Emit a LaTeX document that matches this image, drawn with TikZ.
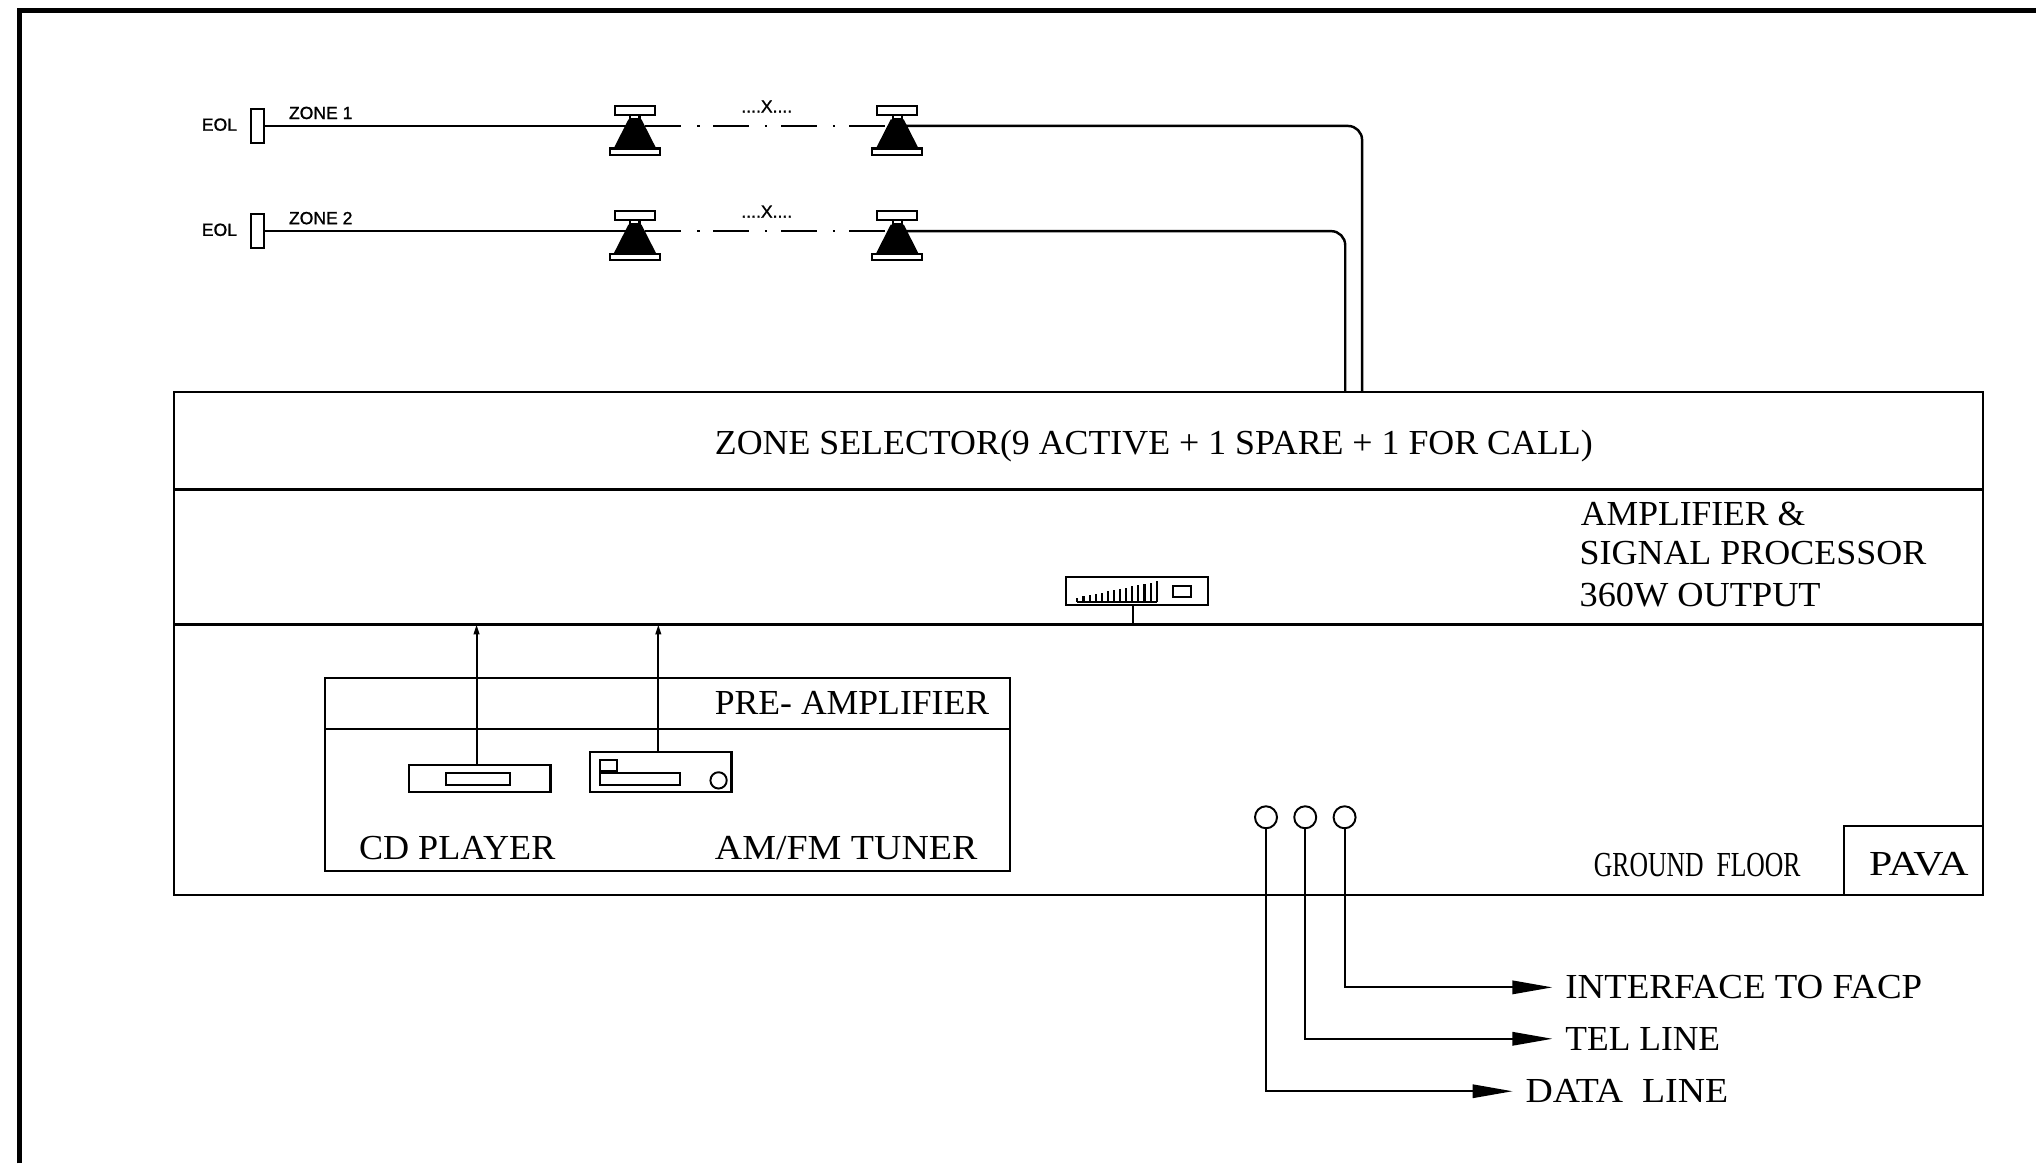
\documentclass[tikz,border=0pt]{standalone}
\usepackage{fontspec}
\setmainfont{Liberation Serif}
\newfontfamily\cadfont[FakeBold=1.2]{Liberation Sans}
\usetikzlibrary{arrows.meta,positioning}

\begin{document}
\begin{tikzpicture}[
  x=0.012985cm, y=-0.012985cm,
  panel/.style={draw=black, line width=0.6pt, minimum width=#1, inner sep=0pt, outer sep=0pt},
  panel/.default=18.09cm,
  label/.style={font=\fontsize{10}{12}\selectfont, text height=6.6pt, text depth=0pt, inner sep=0pt, anchor=west},
  cadtext/.style={font=\cadfont\fontsize{5}{6}\selectfont, inner sep=0pt},
  unit/.style={draw=black, line width=0.6pt},
  port/.style={draw=black, line width=0.55pt, circle, minimum size=0.22cm, inner sep=0pt},
  eol/.style={draw=black, line width=0.6pt, minimum width=0.13cm, minimum height=0.334cm, inner sep=0pt},
  wire/.style={line width=0.7pt},
  fatarrow/.style={line width=0.6pt, -{Stealth[length=11.4pt,width=3.8pt,inset=0pt]}, shorten >=0.122cm},
  thinarrow/.style={line width=0.55pt, -{Stealth[length=2.8pt,width=1.6pt,inset=0pt]}},
  speaker/.pic={
    \draw[unit, fill=white] (-15.5,-15.6) rectangle (15.5,-8.4);
    \draw[unit, fill=white] (-3.5,-8.4) rectangle (3.5,-5.1);
    \fill[black] (-5,-5.1) -- (5,-5.1) -- (16.5,17.5) -- (-16.5,17.5) -- cycle;
    \draw[unit, fill=white] (-19.3,17.4) rectangle (19.3,22.4);
    \coordinate (-c) at (0,0);
    \coordinate (-e) at (8,0);
    \coordinate (-w) at (-8,0);
  }]
  \useasboundingbox (0,0) rectangle (1568,896);
  \draw[line width=1.42pt] (15,896) -- (15,8) -- (1568,8);

  \node[panel, minimum height=0.974cm] (zonebox)   at (830.25,339.5) {};
  \node[panel, minimum height=1.35cm]  (ampbox)    at (830.25,429)   {};
  \node[panel, minimum height=2.70cm]  (groundbox) at (830.25,585)   {};
  \node[panel=1.39cm, minimum height=0.688cm] (pavabox) at (1473.5,662.5) {};
  \node[panel=6.856cm, minimum height=0.513cm] (prebox) at (514,541.7) {};
  \node[panel=6.856cm, minimum height=1.415cm] (srcbox) at (514,616)   {};

  \node[label] (zonetxt) at (550,341) {\scalebox{1.02}[1]{ZONE SELECTOR(9 ACTIVE + 1 SPARE + 1 FOR CALL)}};
  \node[label] (ampa)    at (1217,396) {\scalebox{1.012}[1]{AMPLIFIER \&}};
  \node[label] (ampb)    at (1216,426) {\scalebox{1.023}[1]{SIGNAL PROCESSOR}};
  \node[label] (ampc)    at (1216,458) {\scalebox{1.033}[1]{360W OUTPUT}};
  \node[label] (pretxt)  at (550,541)  {\scalebox{1.014}[1]{PRE- AMPLIFIER}};
  \node[label] (cdtxt)   at (276,653)  {\scalebox{1.027}[1]{CD PLAYER}};
  \node[label] (tunetxt) at (550,653)  {\scalebox{1.08}[1]{AM/FM TUNER}};
  \node[label] (floor)   at (1227,666) {\scalebox{0.73}[1]{GROUND\ \ FLOOR}};
  \node[label] (pava)    at (1439,665) {\scalebox{1.19}[1]{PAVA}};
  \node[label] (facp)    at (1205,760.4) {\scalebox{1.05}[1]{INTERFACE TO FACP}};
  \node[label] (tel)     at (1205,800)   {\scalebox{1.01}[1]{TEL LINE}};
  \node[label] (data)    at (1174.3,840.4) {\scalebox{1.075}[1]{DATA\ \ LINE}};

  % zones
  \node[eol] (eola) at (198.5,97)  {};
  \node[eol] (eolb) at (198.5,178) {};
  \node[cadtext] (eolatxt) at (169,96)  {EOL};
  \node[cadtext] (eolbtxt) at (169,177) {EOL};
  \node[cadtext] (zonea) at (247,87)  {ZONE 1};
  \node[cadtext] (zoneb) at (247,168) {ZONE 2};
  \node[cadtext] (xa) at (590.5,82)  {....X....};
  \node[cadtext] (xb) at (590.5,163) {....X....};
  \pic (spka) at (489,97)  {speaker};
  \pic (spkb) at (691,97)  {speaker};
  \pic (spkc) at (489,178) {speaker};
  \pic (spkd) at (691,178) {speaker};
  \coordinate (upa) at (1049,302);
  \coordinate (upb) at (1036,302);
  \draw[wire] (eola.east) -- (spka-c);
  \draw[wire] (eolb.east) -- (spkc-c);
  \draw[wire, dash pattern=on 10.12pt off 4.6pt on 0.7pt off 3.9pt] (spka-e) -- (spkb-w);
  \draw[wire, dash pattern=on 10.12pt off 4.6pt on 0.7pt off 3.9pt] (spkc-e) -- (spkd-w);
  \draw[wire, rounded corners=4pt] (spkb-c) -| (upa);
  \draw[wire, rounded corners=4pt] (spkd-c) -| (upb);

  % amplifier
  \draw[unit] (821,444.6) rectangle (930,466);
  \draw[unit] (903.6,451.3) rectangle (917,460);
  \foreach \i in {0,...,13}
    \draw[line width=0.6pt] ({829.7+\i*4.7},463.3) -- ++(0,{-(3+\i*0.96)});
  \draw[line width=0.6pt] (829.7,463.3) -- (891,463.3);
  \coordinate (ampstem) at (872.3,466);
  \draw[line width=0.55pt] (ampstem) -- (ampstem |- ampbox.south);

  % sources
  \node[unit, minimum width=1.415cm, minimum height=0.266cm, inner sep=0pt] (cd) at (369.5,599.4) {};
  \node[unit, minimum width=0.64cm, minimum height=0.123cm, inner sep=0pt] (cdslot) at (368.3,599.8) {};
  \node[unit, minimum width=1.415cm, minimum height=0.393cm, inner sep=0pt] (tuner) at (508.9,594.5) {};
  \node[unit, minimum width=0.178cm, minimum height=0.106cm, inner sep=0pt] (tunerkey) at (468.6,589.4) {};
  \node[unit, minimum width=0.808cm, minimum height=0.123cm, inner sep=0pt] (tunerslot) at (492.9,599.8) {};
  \node[port, minimum size=0.163cm] (tunerknob) at (553.4,601) {};
  \coordinate (cdpin) at (367,589);
  \coordinate (tunerpin) at (507,579.4);
  \draw[thinarrow] (cdpin) -- (cdpin |- ampbox.south);
  \draw[thinarrow] (tunerpin) -- (tunerpin |- ampbox.south);

  % outside lines
  \node[port] (pdata) at (975,629.4)   {};
  \node[port] (ptel)  at (1005.2,629.4) {};
  \node[port] (pfacp) at (1035.5,629.4) {};
  \draw[fatarrow] (pfacp.south) |- (facp.west);
  \draw[fatarrow] (ptel.south) |- (tel.west);
  \draw[fatarrow] (pdata.south) |- (data.west);
\end{tikzpicture}
\end{document}
